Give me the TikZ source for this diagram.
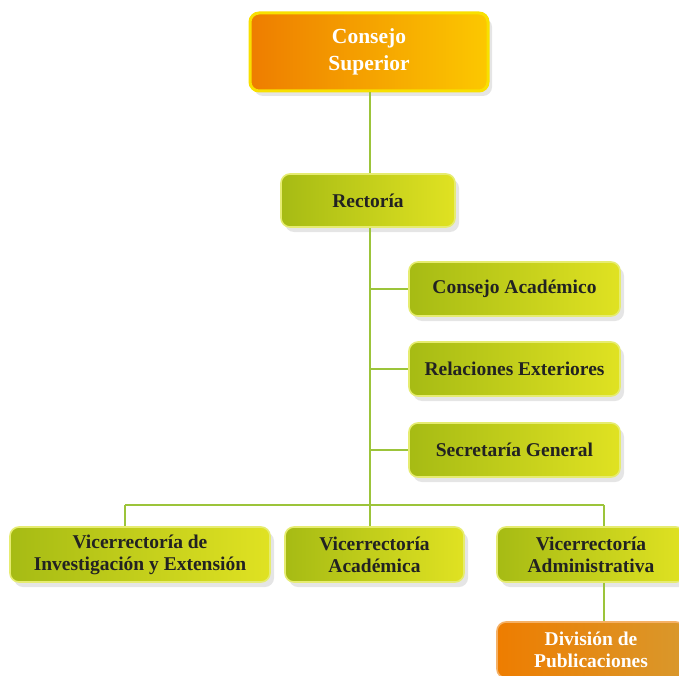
\documentclass[tikz,border=0pt]{standalone}
\usepackage{fontspec}
\setmainfont{Liberation Serif}
\usetikzlibrary{shadows}
\definecolor{lineg}{HTML}{9CC43A}
\definecolor{gl}{HTML}{A6BB14}
\definecolor{gr}{HTML}{E0E222}
\definecolor{gb}{HTML}{E6EC70}
\definecolor{ol}{HTML}{EE7D00}
\definecolor{orr}{HTML}{FCC800}
\definecolor{ob}{HTML}{F8E000}
\definecolor{dl}{HTML}{EE7D00}
\definecolor{dr}{HTML}{D9982C}
\definecolor{txt}{HTML}{222222}
\tikzset{
  box/.style={rounded corners=9pt, line width=1.6pt, inner sep=0pt, align=center,
    font=\bfseries\fontsize{19.5}{22}\selectfont,
    drop shadow={opacity=0.2, shadow xshift=4pt, shadow yshift=-5pt}},
  gbox/.style={box, draw=gb, left color=gl, right color=gr, text=txt},
  obox/.style={box, draw=ob, left color=ol, right color=orr, text=white,
    font=\bfseries\fontsize{21.5}{27}\selectfont, line width=3pt},
  dbox/.style={box, draw=ol!60!white, left color=dl, right color=dr, text=white},
  conn/.style={draw=lineg, line width=1.5pt}
}
\begin{document}
\begin{tikzpicture}[x=1pt,y=-1pt]
\useasboundingbox (0,0) rectangle (679,676);
\clip (0,0) rectangle (679,676);
\fill[white] (0,0) rectangle (679,676);
\coordinate (j1) at (370,289);
\coordinate (j2) at (370,369);
\coordinate (j3) at (370,450);
\coordinate (hm) at (370,505);
\coordinate (hl) at (125,505);
\coordinate (hr) at (604,505);
\node[obox, minimum width=238pt, minimum height=78pt] (cs) at (369,52) {Consejo\\Superior};
\node[gbox, minimum width=174pt, minimum height=53pt] (rec) at (368,200.5) {Rector\'ia};
\node[gbox, minimum width=211pt, minimum height=54pt] (ca) at (514.5,289) {Consejo Acad\'emico};
\node[gbox, minimum width=211pt, minimum height=54pt] (re) at (514.5,369) {Relaciones Exteriores};
\node[gbox, minimum width=211pt, minimum height=54pt] (sg) at (514.5,450) {Secretar\'ia General};
\node[gbox, minimum width=260pt, minimum height=55pt] (vie) at (140,554.5) {Vicerrector\'ia de\\Investigaci\'on y Extensi\'on};
\node[gbox, minimum width=179pt, minimum height=55pt] (va) at (374.5,554.5) {Vicerrector\'ia\\Acad\'emica};
\node[gbox, minimum width=188pt, minimum height=55pt] (vad) at (591,554.5) {Vicerrector\'ia\\Administrativa};
\node[dbox, minimum width=188pt, minimum height=56pt] (dp) at (591,650) {Divisi\'on de\\Publicaciones};
\draw[conn] (cs.south -| 370,0) -- (rec.north -| 370,0);
\draw[conn] (rec.south -| 370,0) -- (hm);
\draw[conn] (j1) -- (ca.west);
\draw[conn] (j2) -- (re.west);
\draw[conn] (j3) -- (sg.west);
\draw[conn] (hl) -- (hr);
\draw[conn] (hl) -- (vie.north -| hl);
\draw[conn] (hm) -- (va.north -| hm);
\draw[conn] (hr) -- (vad.north -| hr);
\draw[conn] (vad.south -| hr) -- (dp.north -| hr);
\end{tikzpicture}
\end{document}
